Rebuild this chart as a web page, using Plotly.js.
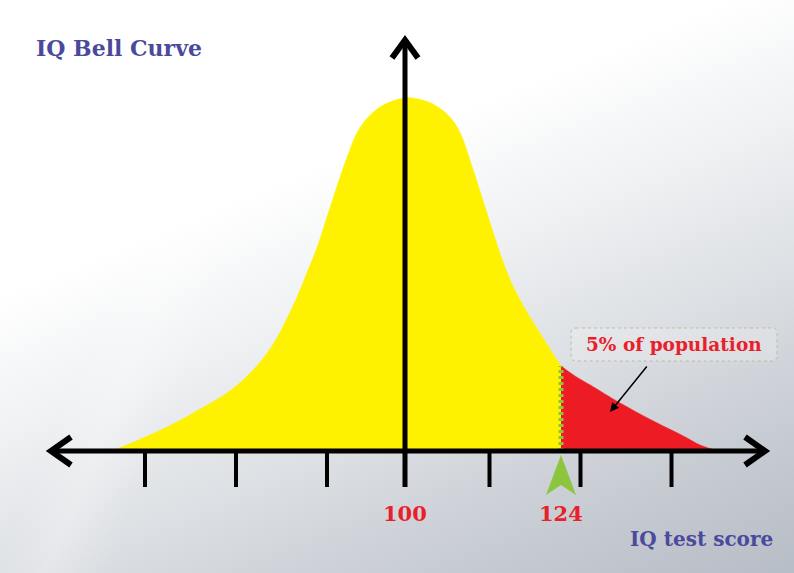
<!DOCTYPE html>
<html><head><meta charset="utf-8">
<script src="https://cdn.plot.ly/plotly-3.0.1.min.js"></script>
<style>
html,body{margin:0;padding:0;background:#fff;}
#chart{width:794px;height:573px;
background:
 linear-gradient(112deg, rgba(255,255,255,0) 0%, rgba(255,255,255,0) 22%, rgba(255,255,255,0.25) 27%, rgba(255,255,255,0) 33%, rgba(255,255,255,0) 100%),
 linear-gradient(158deg, #ffffff 0%, #ffffff 33%, #eef0f2 50%, #dcdfe3 66%, #c9cdd4 82%, #b7bdc6 100%);
}
</style></head><body><div id="chart"></div><script>
// IQ score (x) and relative frequency (peak = 1)
const scores  = [54.8, 58.2, 63.4, 68.5, 72.6, 75.7, 78.2, 80.3, 81.8, 83.4, 84.9, 86.5, 88.0, 89.5, 91.1, 92.6, 94.2, 96.2, 98.2, 100.0,
                 101.2, 104.3, 106.9, 108.5, 110.0, 111.5, 113.1, 114.6, 116.2, 117.7, 119.7, 121.8, 124.0, 126.2, 128.5, 133.1, 138.2, 143.1, 145.4, 148.2];
const heights = [0.000, 0.025, 0.068, 0.119, 0.164, 0.212, 0.263, 0.320, 0.374, 0.436, 0.504, 0.578, 0.663, 0.748, 0.833, 0.901, 0.943, 0.975, 0.992, 1.000,
                 1.000, 0.983, 0.946, 0.901, 0.824, 0.739, 0.646, 0.561, 0.484, 0.428, 0.365, 0.303, 0.241, 0.212, 0.187, 0.136, 0.085, 0.040, 0.017, 0.000];
const cutoff = 124;
const meanScore = 100;
const tickScores = [60, 74, 88, 100, 113, 127, 141];
const labelScores = [100, 124];
const labelTexts = ['100', '124'];
const titleText = 'IQ Bell Curve';
const axisTitle = 'IQ test score';
const calloutText = '5% of population';

// page geometry (pixels) -> axis units
const W = 794, H = 573, X0PX = 405, PXPERPT = 6.5, BASEPX = 451, PEAKPX = 353;
const px2x = p => meanScore + (p - X0PX) / PXPERPT;
const py2y = p => (BASEPX - p) / PEAKPX;

const lowX = [], lowY = [], highX = [], highY = [];
scores.forEach((s, i) => {
  if (s <= cutoff) { lowX.push(s); lowY.push(heights[i]); }
  if (s >= cutoff) { highX.push(s); highY.push(heights[i]); }
});
const cutH = heights[scores.indexOf(cutoff)];

const traces = [
  {x: lowX, y: lowY, type: 'scatter', mode: 'lines', fill: 'tozeroy',
   line: {color: '#fff200', width: 0.5, shape: 'spline', smoothing: 1}, fillcolor: '#fff200', hoverinfo: 'skip'},
  {x: highX, y: highY, type: 'scatter', mode: 'lines', fill: 'tozeroy',
   line: {color: '#ed1c24', width: 0.5, shape: 'spline', smoothing: 1}, fillcolor: '#ed1c24', hoverinfo: 'skip'},
  {x: [cutoff, cutoff], y: [0, cutH], type: 'scatter', mode: 'lines',
   line: {color: '#8cc63e', width: 5, dash: '3px,3px'}, hoverinfo: 'skip'}
];

const P = (px, py) => px2x(px) + ' ' + py2y(py);
const shapes = [];
// horizontal axis with chevron arrows
shapes.push({type: 'line', xref: 'x', yref: 'y', x0: px2x(52), x1: px2x(763), y0: 0, y1: 0, line: {color: '#000', width: 5}});
shapes.push({type: 'path', xref: 'x', yref: 'y', path: 'M ' + P(71, 437) + ' L ' + P(51, 451) + ' L ' + P(71, 465), line: {color: '#000', width: 6}});
shapes.push({type: 'path', xref: 'x', yref: 'y', path: 'M ' + P(745, 437) + ' L ' + P(765, 451) + ' L ' + P(745, 465), line: {color: '#000', width: 6}});
// vertical axis at the mean
shapes.push({type: 'line', xref: 'x', yref: 'y', x0: meanScore, x1: meanScore, y0: py2y(487), y1: py2y(42), line: {color: '#000', width: 5}});
shapes.push({type: 'path', xref: 'x', yref: 'y', path: 'M ' + P(392, 58) + ' L ' + P(405, 40) + ' L ' + P(418, 58), line: {color: '#000', width: 6}});
// ticks
tickScores.forEach(t => {
  if (t === meanScore) return;
  shapes.push({type: 'line', xref: 'x', yref: 'y', x0: t, x1: t, y0: 0, y1: py2y(487), line: {color: '#000', width: 4}});
});
// green pointer at the cutoff
const cx = (cutoff - meanScore) * PXPERPT + X0PX;
shapes.push({type: 'path', xref: 'x', yref: 'y',
  path: 'M ' + P(cx, 455) + ' L ' + P(cx + 15, 495) + ' L ' + P(cx, 485) + ' L ' + P(cx - 15, 495) + ' Z',
  fillcolor: '#8cc63e', line: {width: 0}});
// callout box (rounded, dotted)
const bx0 = 571, bx1 = 777, by0 = 328, by1 = 361, r = 5;
shapes.push({type: 'path', xref: 'x', yref: 'y',
  path: 'M ' + P(bx0 + r, by0) + ' L ' + P(bx1 - r, by0) + ' Q ' + P(bx1, by0) + ' ' + P(bx1, by0 + r) +
        ' L ' + P(bx1, by1 - r) + ' Q ' + P(bx1, by1) + ' ' + P(bx1 - r, by1) +
        ' L ' + P(bx0 + r, by1) + ' Q ' + P(bx0, by1) + ' ' + P(bx0, by1 - r) +
        ' L ' + P(bx0, by0 + r) + ' Q ' + P(bx0, by0) + ' ' + P(bx0 + r, by0) + ' Z',
  fillcolor: 'rgba(255,255,255,0.2)', line: {color: '#b5c0a0', width: 1, dash: 'dot'}});

const serif = '"DejaVu Serif", serif';
const annotations = [
  {x: px2x(34), y: py2y(48), xref: 'x', yref: 'y', text: '<b>' + titleText + '</b>', showarrow: false,
   xanchor: 'left', yanchor: 'middle', font: {family: serif, size: 22, color: '#4a4a9c'}},
  {x: px2x(775), y: py2y(539), xref: 'x', yref: 'y', text: '<b>' + axisTitle + '</b>', showarrow: false,
   xanchor: 'right', yanchor: 'middle', font: {family: serif, size: 20, color: '#4a4a9c'}},
  {x: px2x(674), y: py2y(344), xref: 'x', yref: 'y', text: '<b>' + calloutText + '</b>', showarrow: false,
   xanchor: 'center', yanchor: 'middle', font: {family: serif, size: 18.5, color: '#e8202a'}},
  {x: px2x(610), y: py2y(412), xref: 'x', yref: 'y', text: '', showarrow: true, ax: 38, ay: -47,
   arrowhead: 2, arrowsize: 1.2, arrowwidth: 1.5, arrowcolor: '#000'}
];
labelScores.forEach((s, i) => annotations.push({
  x: s, y: py2y(513), xref: 'x', yref: 'y', text: '<b>' + labelTexts[i] + '</b>', showarrow: false,
  xanchor: 'center', yanchor: 'middle', font: {family: serif, size: 21, color: '#e8202a'}
}));

const layout = {
  width: W, height: H, margin: {l: 0, r: 0, t: 0, b: 0},
  paper_bgcolor: 'rgba(0,0,0,0)', plot_bgcolor: 'rgba(0,0,0,0)',
  showlegend: false,
  xaxis: {range: [px2x(0), px2x(W)], visible: false, fixedrange: true},
  yaxis: {range: [py2y(H), py2y(0)], visible: false, fixedrange: true},
  shapes: shapes, annotations: annotations
};
Plotly.newPlot('chart', traces, layout, {displayModeBar: false, staticPlot: true});
</script></body></html>
